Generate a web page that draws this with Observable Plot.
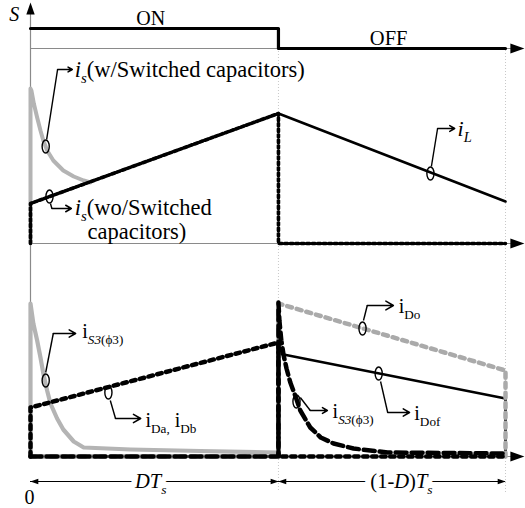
<!DOCTYPE html>
<html><head><meta charset="utf-8">
<script src="https://cdn.jsdelivr.net/npm/d3@7"></script>
<script src="https://cdn.jsdelivr.net/npm/@observablehq/plot@0.6"></script>
<style>
html,body{margin:0;padding:0;background:#fff;}
#chart svg{display:block;}
#chart svg text{font-family:"Liberation Serif","Times New Roman",serif;}
</style>
</head><body><div id="chart"></div>
<script>
// ---- time in units of Ts, D = duty ratio ----
const D = 0.522;
// panel baselines (height above the bottom edge)
const base1 = 460, base2 = 265, base3 = 52, baseT = 27;

// Gate signal S
const gateT = [0, D, D, 1];
const gateV = [20, 20, 0, 0];

// Panel 2: inductor / switch currents
const iLT = [0, D, 1];
const iLV = [40, 130, 42];
const isWoT = [0, 0, D, D, 1];
const isWoV = [0, 40, 130, 0, 0];
const isWT = [0, 0, 0.002, 0.007, 0.014, 0.021, 0.027, 0.035, 0.048, 0.069, 0.091, 0.112, 0.126];
const isWV = [0, 155, 153, 140, 126, 113, 103, 93, 83, 73, 67, 63, 61];

// Panel 3: diode / S3 currents
const iS3onT = [0, 0, 0.006, 0.014, 0.021, 0.027, 0.035, 0.042, 0.056, 0.069, 0.091, 0.112, 0.211, 0.358, D];
const iS3onV = [0, 153, 133, 116, 99, 83, 66, 53, 38, 27, 15, 9, 7, 5.5, 4];
const iDaT = [0, 0, D, D, 1];
const iDaV = [0, 49, 114, 0, 0];
const iDoT = [0, D, D, 1, 1];
const iDoV = [0, 0, 153, 86, 0];
const iDofT = [0, D, D, 1, 1];
const iDofV = [0, 0, 103, 58, 0];
const iS3offT = [0, D, D, 0.524, 0.528, 0.533, 0.539, 0.547, 0.558, 0.568, 0.589, 0.611, 0.638, 0.68, 0.752, 1];
const iS3offV = [0, 0, 154, 136, 116, 101, 88, 74, 60, 46, 29, 19, 13, 8, 4, 3];

// annotation callouts: ellipse, leader start, corner, arrow end
const annEx = [0.032, 0.040, 0.842, 0.032, 0.164, 0.699, 0.733, 0.560];
const annEy = [362, 312, 335, 128, 116, 180, 135, 107];
const annSx = [0.034, 0.042, 0.844, 0.032, 0.168, 0.701, 0.737, 0.568];
const annSy = [369, 305, 342, 136, 108, 188, 127, 111];
const annCx = [0.057, 0.045, 0.857, 0.048, 0.179, 0.709, 0.752, 0.589];
const annCy = [439, 300, 380, 175, 90, 203, 96, 98];
const annAx = [0.088, 0.086, 0.893, 0.095, 0.232, 0.764, 0.798, 0.625];

// labels
const labText = ["is(w/Switched capacitors)", "is(wo/Switched", "capacitors)", "iL", "iS3(ϕ3)", "iDa, iDb", "iDo", "iDof", "iS3(ϕ3)"];
const labT = [0.093, 0.093, 0.120, 0.899, 0.109, 0.242, 0.775, 0.808, 0.636];
const labY = [439, 301, 277, 380, 177, 88, 202, 95, 97];
const labSize = [22.5, 22.5, 22.5, 22, 20, 20, 20, 20, 20];

const rich = {
  "is(w/Switched capacitors)": [["i","i"],["s","is"],["(w/Switched capacitors)",""]],
  "is(wo/Switched": [["i","i"],["s","is"],["(wo/Switched",""]],
  "iL": [["i","i"],["L","is"]],
  "iS3(ϕ3)": [["i",""],["S3","is"],["(ϕ3)","s"]],
  "iDa, iDb": [["i",""],["Da,","s"],[" i",""],["Db","s"]],
  "iDo": [["i",""],["Do","s"]],
  "iDof": [["i",""],["Dof","s"]],
  "DTs": [["D","i"],["T","i"],["s","is"]],
  "(1-D)Ts": [["(1-",""],["D","i"],[")",""],["T","i"],["s","is"]]
};

const ser = (T, V, b) => T.map((t, i) => ({t, y: b + V[i]}));
const ann = annEx.map((_, i) => ({ex: annEx[i], ey: annEy[i], sx: annSx[i], sy: annSy[i], cx: annCx[i], cy: annCy[i], ax: annAx[i]}));
const labs = labText.map((s, i) => ({s, t: labT[i], y: labY[i], fs: labSize[i]}));
const spanLabs = ["DTs", "(1-D)Ts"];
const spanT = [0.253, 0.781];

// custom symbols
const sq = s => Math.sqrt(s / Math.PI);
const ellipseSym = {draw(c, size) {
  const r = sq(size), rx = r * 0.55, ry = r, k = 0.5523;
  c.moveTo(0, -ry);
  c.bezierCurveTo(k*rx, -ry, rx, -k*ry, rx, 0);
  c.bezierCurveTo(rx, k*ry, k*rx, ry, 0, ry);
  c.bezierCurveTo(-k*rx, ry, -rx, k*ry, -rx, 0);
  c.bezierCurveTo(-rx, -k*ry, -k*rx, -ry, 0, -ry);
  c.closePath();
}};
const triRight = {draw(c, size) { const r = sq(size); c.moveTo(r, 0); c.lineTo(-r, -r*0.7); c.lineTo(-r, r*0.7); c.closePath(); }};
const triLeft = {draw(c, size) { const r = sq(size); c.moveTo(-r, 0); c.lineTo(r, -r*0.7); c.lineTo(r, r*0.7); c.closePath(); }};
const triUp = {draw(c, size) { const r = sq(size); c.moveTo(0, -r); c.lineTo(-r*0.7, r); c.lineTo(r*0.7, r); c.closePath(); }};

const axEnd = 1.02;
const gray = "#b4b4b4";
const axisGray = "#8a8a8a";
const font = "'Liberation Serif', 'Times New Roman', serif";

const chart = Plot.plot({
  width: 525, height: 508,
  marginTop: 0, marginBottom: 0, marginLeft: 0, marginRight: 0,
  x: {domain: [0, 1], range: [30, 505], axis: null},
  y: {domain: [0, 508], range: [508, 0], axis: null},
  style: {background: "#fff", fontFamily: font, overflow: "visible"},
  marks: [
    // guides
    Plot.ruleX([D], {y1: 18, y2: base1, stroke: "#c8c8c8", strokeWidth: 1, strokeDasharray: "1,2"}),
    Plot.ruleX([1], {y1: 16, y2: base1, stroke: "#c8c8c8", strokeWidth: 1, strokeDasharray: "1,2"}),
    // axes
    Plot.ruleX([0], {y1: base3 - 2, y2: 500, stroke: axisGray, strokeWidth: 1.2}),
    Plot.ruleY([base1, base2, base3], {x1: 0, x2: axEnd, stroke: axisGray, strokeWidth: 1.2}),
    Plot.dot([base1, base2, base3], {x: 1.025, y: d => d, r: 7, symbol: triRight, fill: "black", stroke: "none"}),
    Plot.dot([0], {x: d => d, y: 500, r: 6, symbol: triUp, fill: "black", stroke: "none"}),
    // gate signal
    Plot.line(ser(gateT, gateV, base1), {x: "t", y: "y", stroke: "black", strokeWidth: 3.2}),
    // panel 2
    Plot.line(ser(isWT, isWV, base2), {x: "t", y: "y", stroke: gray, strokeWidth: 4, strokeLinejoin: "round"}),
    Plot.line(ser(iLT, iLV, base2), {x: "t", y: "y", stroke: "black", strokeWidth: 2.6}),
    Plot.line(ser(isWoT, isWoV, base2), {x: "t", y: "y", stroke: "black", strokeWidth: 3.6, strokeDasharray: "3,2.5"}),
    // panel 3
    Plot.line(ser(iS3onT, iS3onV, base3), {x: "t", y: "y", stroke: gray, strokeWidth: 4.2, strokeLinejoin: "round"}),
    Plot.line(ser(iDofT, iDofV, base3), {x: "t", y: "y", stroke: "black", strokeWidth: 2.6}),
    Plot.line(ser(iDoT, iDoV, base3), {x: "t", y: "y", stroke: "#aaaaaa", strokeWidth: 4.5, strokeDasharray: "5,5"}),
    Plot.line(ser(iDaT, iDaV, base3), {x: "t", y: "y", stroke: "black", strokeWidth: 4.5, strokeDasharray: "4.5,4.5"}),
    Plot.line(ser(iS3offT, iS3offV, base3), {x: "t", y: "y", stroke: "black", strokeWidth: 4.5, strokeDasharray: "11,5"}),
    // time axis
    Plot.ruleY([baseT], {x1: 0, x2: D, stroke: "black", strokeWidth: 1}),
    Plot.ruleY([baseT], {x1: D, x2: 1, stroke: "black", strokeWidth: 1}),
    Plot.dot([0.008, D + 0.008], {x: d => d, y: baseT, r: 4, symbol: triLeft, fill: "black", stroke: "none"}),
    Plot.dot([D - 0.008, 0.992], {x: d => d, y: baseT, r: 4, symbol: triRight, fill: "black", stroke: "none"}),
    Plot.text(spanLabs, {x: spanT, y: baseT, text: d => d, fontSize: 20.5, fontFamily: font, fill: "white", stroke: "white", strokeWidth: 12, textAnchor: "middle", lineAnchor: "middle"}),
    Plot.text(spanLabs, {x: spanT, y: baseT, text: d => d, fontSize: 20.5, fontFamily: font, fill: "black", textAnchor: "middle", lineAnchor: "middle"}),
    // callouts
    Plot.dot(ann, {x: "ex", y: "ey", r: 6.5, symbol: ellipseSym, stroke: "black", fill: "none", strokeWidth: 1.4}),
    Plot.link(ann, {x1: "sx", y1: "sy", x2: "cx", y2: "cy", stroke: "black", strokeWidth: 1.4}),
    Plot.arrow(ann, {x1: "cx", y1: "cy", x2: "ax", y2: "cy", stroke: "black", strokeWidth: 1.5, headLength: 10}),
    Plot.text(labs, {x: "t", y: "y", text: "s", fontSize: "fs", fontFamily: font, fill: "black", textAnchor: "start", lineAnchor: "middle"}),
    // S, ON / OFF, 0
    Plot.text(["S"], {x: -0.034, y: 494, text: d => d, fontSize: 20, fontFamily: font, fontStyle: "italic", fill: "black", textAnchor: "middle", lineAnchor: "middle"}),
    Plot.text(["ON"], {x: 0.253, y: 490, text: d => d, fontSize: 20, fontFamily: font, fill: "black", textAnchor: "middle", lineAnchor: "middle"}),
    Plot.text(["OFF"], {x: 0.754, y: 470, text: d => d, fontSize: 20.5, fontFamily: font, fill: "black", textAnchor: "middle", lineAnchor: "middle"}),
    Plot.text(["0"], {x: -0.002, y: 11, text: d => d, fontSize: 20, fontFamily: font, fill: "black", textAnchor: "middle", lineAnchor: "middle"})
  ]
});

document.getElementById("chart").appendChild(chart);

// rich text: italics and subscripts as tspans
const NS = "http://www.w3.org/2000/svg";
chart.querySelectorAll("text").forEach(el => {
  const segs = rich[el.textContent];
  if (!segs) return;
  const fs = parseFloat(getComputedStyle(el).fontSize) || 20;
  el.textContent = "";
  let shifted = 0;
  segs.forEach(([s, f]) => {
    const ts = document.createElementNS(NS, "tspan");
    ts.textContent = s;
    if (f.includes("i")) ts.setAttribute("font-style", "italic");
    const sub = f.includes("s");
    const target = sub ? fs * 0.28 : 0;
    if (target !== shifted) { ts.setAttribute("dy", (target - shifted).toFixed(2)); shifted = target; }
    if (sub) ts.setAttribute("font-size", (fs * 0.66).toFixed(1));
    el.appendChild(ts);
  });
});
</script>
</body></html>
